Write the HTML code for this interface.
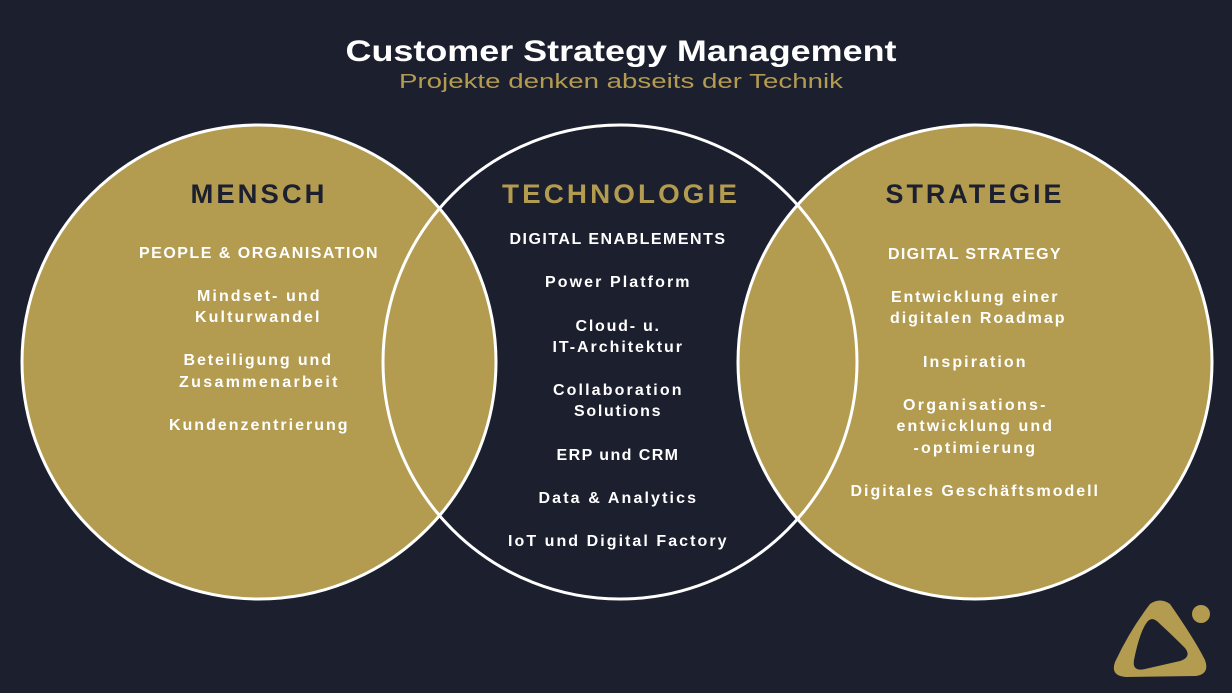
<!DOCTYPE html>
<html><head><meta charset="utf-8"><style>
html,body{margin:0;padding:0;background:#1c1f2e;}
svg{display:block;}
text{font-family:"Liberation Sans",sans-serif;}
.t{fill:#fff;font-size:16px;font-weight:bold;letter-spacing:1.5px;}
.h{font-size:27px;font-weight:bold;letter-spacing:3px;}
</style></head><body>
<svg width="1232" height="693" viewBox="0 0 1232 693">
<rect width="1232" height="693" fill="#1c1f2e"/>
<text x="621" y="61" text-anchor="middle" fill="#fff" font-size="30" font-weight="bold" textLength="551" lengthAdjust="spacingAndGlyphs">Customer Strategy Management</text>
<text x="621" y="88" text-anchor="middle" fill="#b39b50" font-size="20" textLength="444" lengthAdjust="spacingAndGlyphs">Projekte denken abseits der Technik</text>
<circle cx="620" cy="362" r="237" fill="#1c1f2e"/>
<circle cx="259" cy="362" r="237" fill="#b39b50"/>
<circle cx="975" cy="362" r="237" fill="#b39b50"/>
<g fill="none" stroke="#fff" stroke-width="3">
<circle cx="259" cy="362" r="237"/>
<circle cx="620" cy="362" r="237"/>
<circle cx="975" cy="362" r="237"/>
</g>
<g text-anchor="middle">
<text class="h" x="259" y="203" fill="#1c1f2e" textLength="137" lengthAdjust="spacingAndGlyphs">MENSCH</text>
<text class="h" x="621" y="203" fill="#b39b50" textLength="238" lengthAdjust="spacingAndGlyphs">TECHNOLOGIE</text>
<text class="h" x="975" y="203" fill="#1c1f2e" textLength="179" lengthAdjust="spacingAndGlyphs">STRATEGIE</text>
<g class="t" lengthAdjust="spacingAndGlyphs">
<text x="259" y="258" textLength="240">PEOPLE &amp; ORGANISATION</text>
<text x="259" y="301" textLength="124">Mindset- und</text>
<text x="258" y="322" textLength="126">Kulturwandel</text>
<text x="258" y="365" textLength="149">Beteiligung und</text>
<text x="259" y="387" textLength="160">Zusammenarbeit</text>
<text x="259" y="430" textLength="180">Kundenzentrierung</text>

<text x="618" y="244" textLength="217">DIGITAL ENABLEMENTS</text>
<text x="618" y="287" textLength="146">Power Platform</text>
<text x="618" y="331" textLength="85">Cloud- u.</text>
<text x="618" y="352" textLength="131">IT-Architektur</text>
<text x="618" y="395" textLength="130">Collaboration</text>
<text x="618" y="416" textLength="88">Solutions</text>
<text x="618" y="460" textLength="123">ERP und CRM</text>
<text x="618" y="503" textLength="159">Data &amp; Analytics</text>
<text x="618" y="546" textLength="220">IoT und Digital Factory</text>

<text x="975" y="259" textLength="174">DIGITAL STRATEGY</text>
<text x="975" y="302" textLength="168">Entwicklung einer</text>
<text x="978" y="323" textLength="176">digitalen Roadmap</text>
<text x="975" y="367" textLength="104">Inspiration</text>
<text x="975" y="410" textLength="144">Organisations-</text>
<text x="975" y="431" textLength="157">entwicklung und</text>
<text x="975" y="453" textLength="123">-optimierung</text>
<text x="975" y="496" textLength="249">Digitales Geschäftsmodell</text>
</g>
</g>
<path d="M1150 604 Q1160 597 1170 604 Q1195 640 1205 660 Q1210 674 1196 676 L1126 677 Q1110 676 1115 662 Q1130 630 1150 604 Z M1148 621 Q1140 630 1134 660 Q1132 672 1145 669 L1180 661 Q1192 657 1185 648 Q1170 633 1160 624 Q1153 616 1148 621 Z" fill="#b39b50" fill-rule="evenodd"/>
<circle cx="1201" cy="614" r="9" fill="#b39b50"/>
</svg>
</body></html>
